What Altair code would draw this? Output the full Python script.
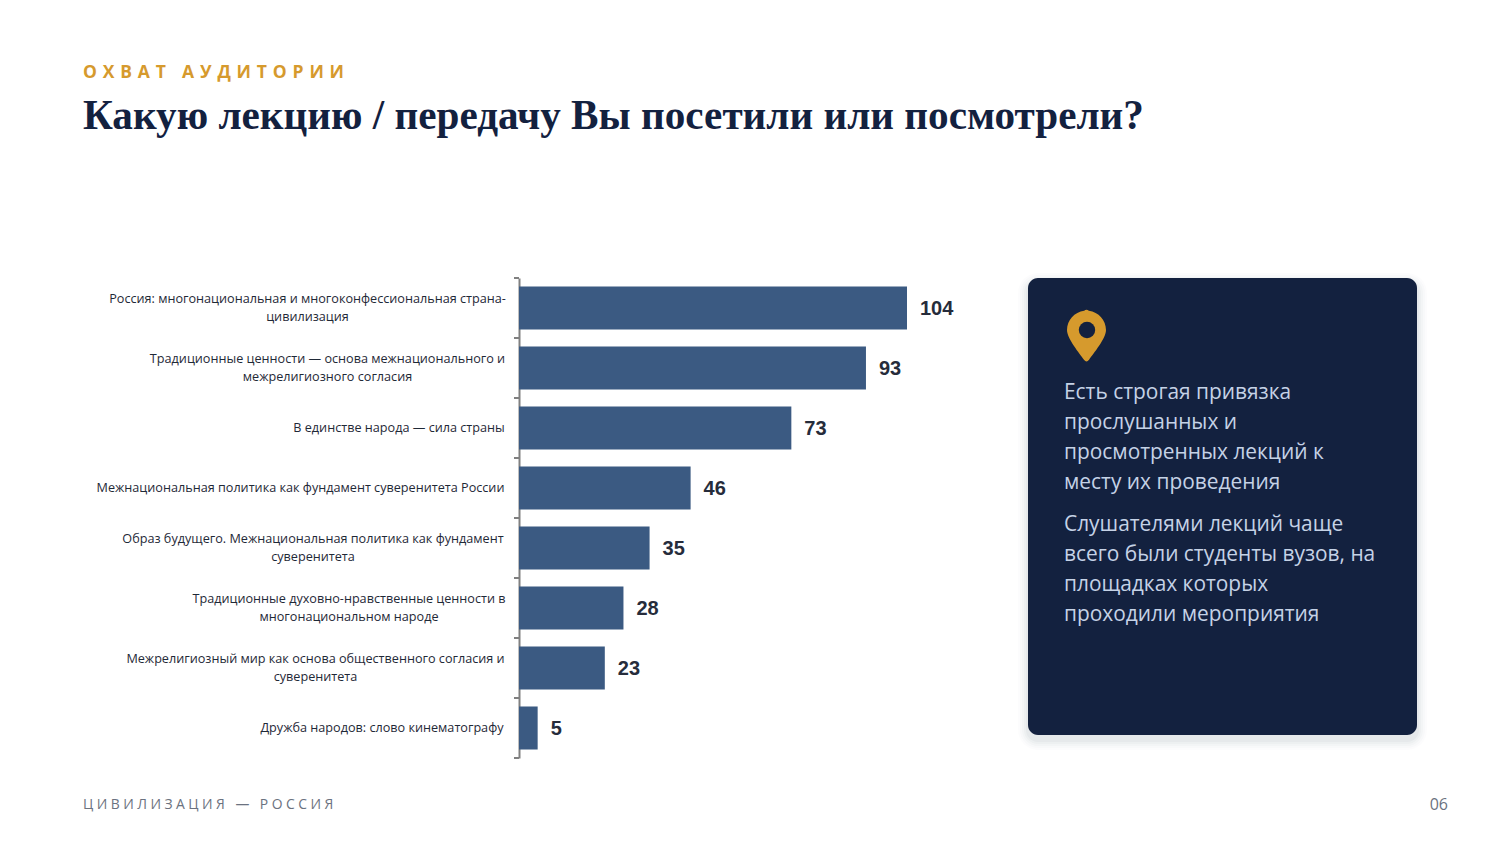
import altair as alt
import pandas as pd

# ---- chart values ----
categories = [
    "Россия: многонациональная и многоконфессиональная страна-\nцивилизация",
    "Традиционные ценности — основа межнационального и\nмежрелигиозного согласия",
    "В единстве народа — сила страны",
    "Межнациональная политика как фундамент суверенитета России",
    "Образ будущего. Межнациональная политика как фундамент\nсуверенитета",
    "Традиционные духовно-нравственные ценности в\nмногонациональном народе",
    "Межрелигиозный мир как основа общественного согласия и\nсуверенитета",
    "Дружба народов: слово кинематографу",
]
values = [104, 93, 73, 46, 35, 28, 23, 5]
label_widths = [395, 355, 212, 409, 384, 312, 379, 246]

eyebrow = "ОХВАТ АУДИТОРИИ"
title = "Какую лекцию / передачу Вы посетили или посмотрели?"
footer = "ЦИВИЛИЗАЦИЯ — РОССИЯ"
page_no = "06"
card_text_1 = "Есть строгая привязка\nпрослушанных и\nпросмотренных лекций к\nместу их проведения"
card_text_2 = "Слушателями лекций чаще\nвсего были студенты вузов, на\nплощадках которых\nпроходили мероприятия"

NAVY = "#13213F"
GOLD = "#D69A2D"
BAR = "#3B5A82"
AXIS = "#808080"
PIN = "M-0.12,-0.99 Q0,-1.08 0.12,-0.99 A1,1 0 0 1 1,0 C1,0.45 0.35,1.2 0.13,1.53 Q0,1.7 -0.13,1.53 C-0.35,1.2 -1,0.45 -1,0 A1,1 0 0 1 -0.12,-0.99 Z"

# plot origin sits at page (519, 278)
OX, OY = 519, 278
px = lambda v: alt.value(v - OX)
py = lambda v: alt.value(v - OY)


def spaced(s, gap):
    return gap.join(s)


df = pd.DataFrame({"cat": categories, "value": values, "w": label_widths})
one = pd.DataFrame({"a": [0]})

y_enc = alt.Y(
    "cat:N",
    sort=None,
    scale=alt.Scale(domain=categories, paddingInner=0.283, paddingOuter=0.1415),
    axis=alt.Axis(
        title=None, labels=False, grid=False, ticks=False,
        domainColor=AXIS, domainWidth=2,
    ),
)
x_enc = alt.X("value:Q", scale=alt.Scale(domain=[0, 104], nice=False), axis=None)


def text(s, x, y, **kw):
    return alt.Chart(pd.DataFrame({"t": [s]})).mark_text(lineBreak="\n", **kw).encode(
        text="t:N", x=px(x), y=py(y)
    )


def card_rect(x0, x1, y0, y1, **kw):
    return alt.Chart(one).mark_rect(**kw).encode(
        x=px(x0), x2=px(x1), y=py(y0), y2=py(y1)
    )


layers = []

# card shadow, then card
for grow, op in [(10, 0.012), (8, 0.015), (6, 0.02), (4, 0.025), (2, 0.03)]:
    layers.append(card_rect(1028 - grow, 1417 + grow, 278 - grow + 5, 735 + grow + 5,
                            cornerRadius=10 + grow, fill="#13213F", opacity=op))
layers.append(card_rect(1028, 1417, 278, 735, cornerRadius=10, fill=NAVY))

# bars and value labels
layers.append(alt.Chart(df).mark_bar(color=BAR).encode(x=x_enc, y=y_enc))
layers.append(
    alt.Chart(df)
    .mark_text(align="left", baseline="middle", dx=13, dy=1, font="Liberation Sans",
               fontWeight="bold", fontSize=20, color="#262C3B")
    .encode(x=x_enc, y=y_enc, text="value:Q")
)

# band-edge ticks of the category axis
layers.append(
    alt.Chart(df).mark_rule(color=AXIS, strokeWidth=2, yOffset=-30)
    .encode(y=y_enc, x=px(514), x2=px(519))
)
layers.append(
    alt.Chart(df[df["cat"] == categories[-1]]).mark_rule(color=AXIS, strokeWidth=2, yOffset=30)
    .encode(y=y_enc, x=px(514), x2=px(519))
)

# category labels: each line centred inside its right-aligned block
for c, w in zip(categories, label_widths):
    sub = df[df["cat"] == c]
    two_lines = "\n" in c
    layers.append(
        alt.Chart(sub)
        .mark_text(lineBreak="\n", lineHeight=18, align="center", baseline="middle",
                   dy=-9 if two_lines else 0,
                   font="Open Sans", fontSize=12.65, color="#1F2937")
        .encode(y=y_enc, x=px(505 - w / 2), text="cat:N")
    )

# headings and footer
layers.append(text(spaced(eyebrow, "\u2004"), 83, 73, align="left", baseline="middle",
                   font="Open Sans", fontWeight="bold", fontSize=17.5, color=GOLD))
layers.append(text(title, 83, 117, align="left", baseline="middle",
                   font="Liberation Serif", fontWeight="bold", fontSize=41.2, color=NAVY))
layers.append(text(spaced(footer, "\u2005"), 83, 804.5, align="left", baseline="middle",
                   font="Open Sans", fontSize=13.9, color="#6B7280"))
layers.append(text(page_no, 1448, 805, align="right", baseline="middle",
                   font="Open Sans", fontSize=16, color="#6B7280"))

# pin icon
layers.append(alt.Chart(one).mark_point(shape=PIN, filled=True, fill=GOLD, stroke=None,
                                        opacity=1, size=1521).encode(x=px(1086.5), y=py(330)))
layers.append(alt.Chart(one).mark_point(shape="circle", filled=True, fill=NAVY, stroke=None,
                                        opacity=1, size=270).encode(x=px(1087), y=py(330)))

# card copy
card_kw = dict(align="left", baseline="middle", lineHeight=30, font="Open Sans",
               fontSize=20.9, color="#C5D2E6")
layers.append(text(card_text_1, 1064, 393, **card_kw))
layers.append(text(card_text_2, 1064, 525, **card_kw))

chart = (
    alt.layer(*layers)
    .properties(
        width=388,
        height=480,
        background="white",
        padding={"left": OX - 8, "top": OY - 8, "right": 585, "bottom": 78},
        autosize=alt.AutoSizeParams(type="none"),
    )
    .configure_view(stroke=None)
)

chart.save("out.html", embed_options={"renderer": "svg", "actions": False})
